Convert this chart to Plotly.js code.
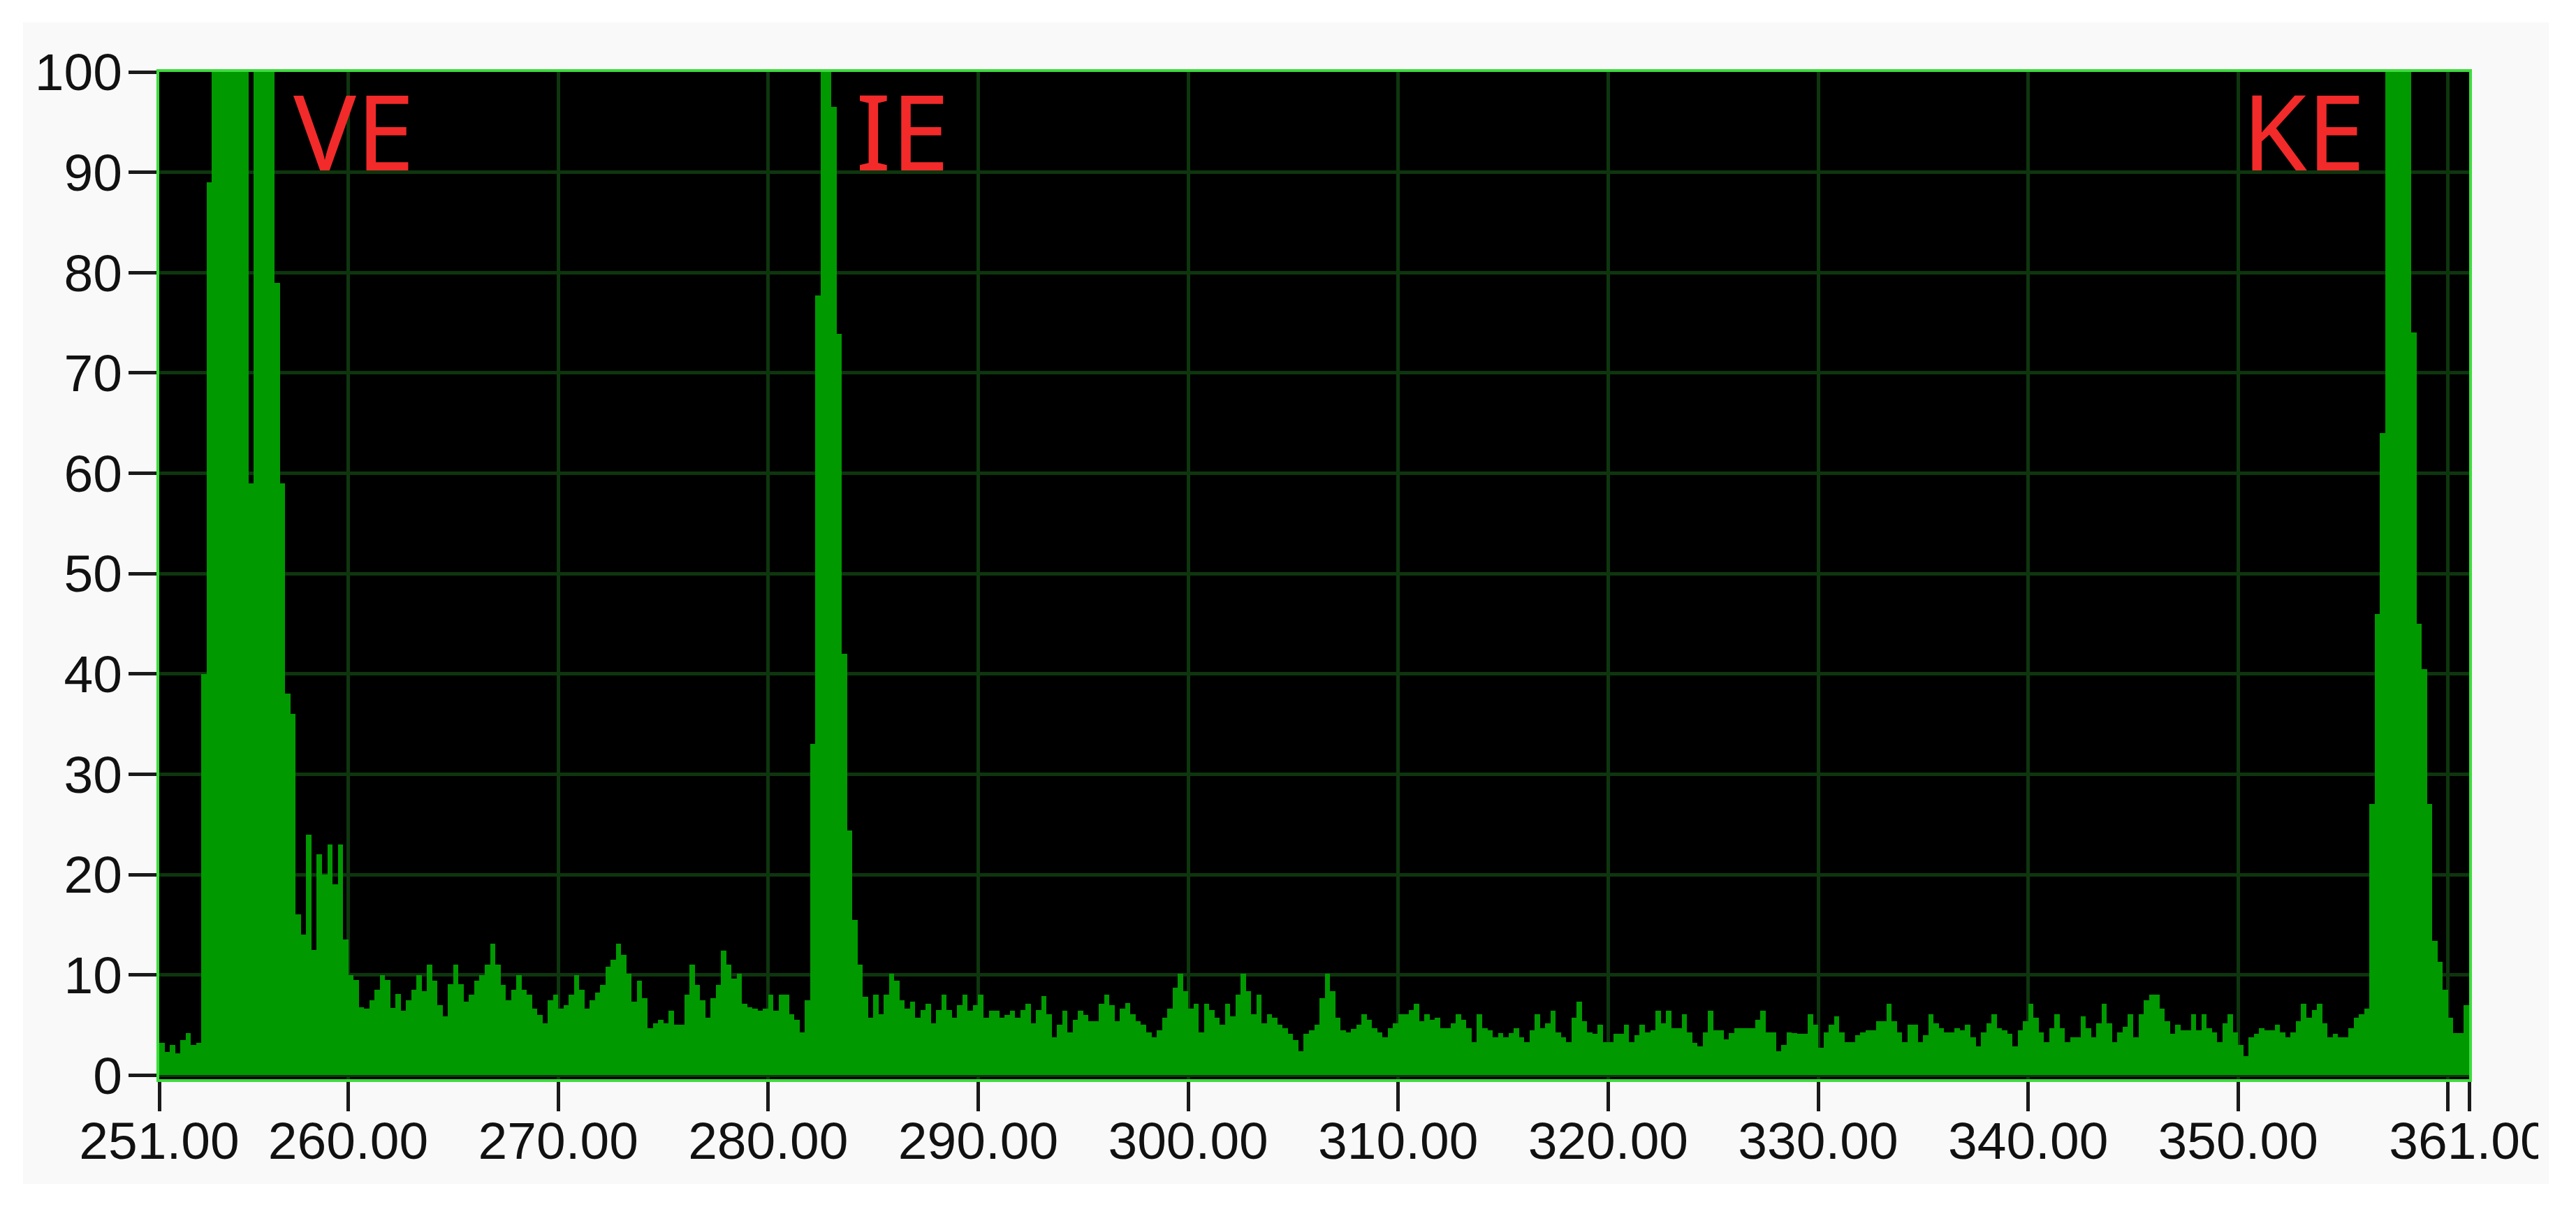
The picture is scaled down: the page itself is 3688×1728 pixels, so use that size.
<!DOCTYPE html>
<html>
<head>
<meta charset="utf-8">
<script src="https://cdn.plot.ly/plotly-3.0.1.min.js"></script>
<style>
  html, body { margin: 0; padding: 0; background: #ffffff; }
  #panel { position: absolute; left: 33px; top: 32px; width: 3616px; height: 1663px; background: #f9f9f9; }
  #spectrum { position: absolute; left: 33px; top: 32px; width: 3601px; height: 1663px; }
</style>
</head>
<body>
<div id="panel"></div>
<div id="spectrum"></div>
<script>
// ── histogram bins: 0.25 wide, starting at 251.00 ──
const binStart = 251;
const binWidth = 0.25;

// counts, 40 bins per stretch (251-261, 261-271, ...)
const bins251 = [3.2, 2.3, 3.0, 2.2, 3.5, 4.2, 3.0, 3.2, 40, 89,
                 100, 100, 100, 100, 100, 100, 100, 59, 100, 100,
                 100, 100, 79, 59, 38, 36, 16, 14, 24, 12.5,
                 22, 20, 23, 19, 23, 13.5, 10, 9.5, 6.8, 6.6];
const bins261 = [7.5, 8.5, 10, 9.5, 6.7, 8.1, 6.4, 7.5, 8.5, 10,
                 8.4, 11, 9.4, 7, 5.9, 9.1, 11, 9.1, 7.3, 8,
                 9.4, 10, 11, 13.1, 11, 9, 7.5, 8.5, 10, 8.5,
                 8, 6.6, 6, 5.2, 7.5, 8, 6.6, 7, 8, 10];
const bins271 = [8.5, 6.6, 7.5, 8.2, 9, 10.8, 11.5, 13.1, 12, 10.1,
                 7.3, 9.4, 7.7, 4.7, 5.2, 5.5, 5.2, 6.4, 5.0, 5.0,
                 8, 11, 9, 7.5, 5.7, 7.7, 9, 12.4, 11, 9.6,
                 10.1, 7.1, 6.8, 6.6, 6.4, 6.6, 8, 6.4, 8, 8];
const bins281 = [6.1, 5.5, 4.3, 7.5, 33, 77.7, 100, 100, 96.5, 73.9,
                 42, 24.4, 15.5, 11, 7.8, 5.7, 8, 6.1, 8, 10.1,
                 9.4, 7.5, 6.6, 7.3, 5.7, 6.5, 7.1, 5.2, 6.5, 8,
                 6.5, 5.7, 7, 8, 6.4, 7, 8, 5.7, 6.4, 6.4];
const bins291 = [5.7, 6, 6.4, 5.7, 6.5, 7.1, 5.2, 6.5, 7.9, 6.1,
                 3.8, 5, 6.4, 4.3, 5.5, 6.4, 6.0, 5.4, 5.4, 7.1,
                 8, 7, 5.4, 6.6, 7.2, 6.1, 5.4, 5, 4.3, 3.8,
                 4.5, 5.7, 6.6, 8.7, 10.1, 8.4, 6.6, 7.1, 4.3, 7.1];
const bins301 = [6.5, 5.7, 5, 7.1, 5.9, 8, 10.1, 8.4, 6.1, 8,
                 5.2, 6.1, 5.7, 5, 4.7, 4.1, 3.5, 2.4, 4.1, 4.5,
                 5, 7.7, 10.1, 8.4, 5.7, 4.5, 4.3, 4.6, 5, 6.1,
                 5.5, 4.7, 4.3, 3.8, 4.7, 5.2, 6.1, 6.1, 6.5, 7.1];
const bins311 = [5.4, 6.1, 5.5, 5.7, 4.7, 4.7, 5.2, 6.1, 5.5, 4.7,
                 3.3, 6.1, 4.7, 4.5, 3.8, 4.2, 3.8, 4.2, 4.7, 3.8,
                 3.3, 4.5, 6.1, 4.7, 5.2, 6.4, 4.3, 3.8, 3.3, 5.7,
                 7.3, 5.4, 4.3, 4.1, 5, 3.3, 3.3, 4.1, 4.1, 5];
const bins321 = [3.3, 4, 5, 4.3, 4.5, 6.4, 5.2, 6.4, 4.7, 4.7,
                 6.1, 4.3, 3.2, 2.9, 4.3, 6.4, 4.5, 4.5, 3.6, 4.2,
                 4.7, 4.7, 4.7, 4.7, 5.5, 6.4, 4.3, 4.3, 2.4, 3,
                 4.3, 4.2, 4.1, 4.1, 6.1, 5, 2.7, 4.3, 5, 5.9];
const bins331 = [4.3, 3.3, 3.3, 4, 4.3, 4.5, 4.5, 5.4, 5.4, 7.1,
                 5.4, 4.3, 3.3, 5, 5, 3.3, 4, 6.1, 5.2, 4.7,
                 4.3, 4.3, 4.7, 4.5, 5, 3.8, 2.9, 4.3, 5.2, 6.1,
                 4.7, 4.5, 4.1, 2.9, 4.5, 5.4, 7.1, 5.7, 4.3, 3.3];
const bins341 = [4.7, 6.1, 4.7, 3.3, 3.8, 3.8, 5.9, 4.7, 3.8, 5.2,
                 7.1, 5.2, 3.3, 4.3, 4.8, 6.1, 3.8, 6.1, 7.5, 8,
                 8, 6.6, 5.4, 4.1, 5, 4.5, 4.5, 6.1, 4.5, 6.1,
                 4.7, 4.3, 3.3, 5.2, 6.1, 4.3, 3, 1.9, 3.8, 4.1];
const bins351 = [4.7, 4.5, 4.5, 5, 4.3, 3.8, 4.3, 5.4, 7.1, 5.7,
                 6.5, 7.1, 5.2, 3.8, 4.1, 3.8, 3.8, 4.7, 5.7, 6.1,
                 6.6, 27, 46, 64, 100, 100, 100, 100, 100, 74,
                 45, 40.5, 27, 13.4, 11.3, 8.5, 5.7, 4.2, 4.2, 7];

const counts = [].concat(bins251, bins261, bins271, bins281, bins291, bins301,
                         bins311, bins321, bins331, bins341, bins351);

// axis ticks
const xTickVals = [251, 260, 270, 280, 290, 300, 310, 320, 330, 340, 350, 360, 361];
const xTickText = ['251.00', '260.00', '270.00', '280.00', '290.00', '300.00', '310.00',
                   '320.00', '330.00', '340.00', '350.00', '', '361.00'];
const yTickVals = [0, 10, 20, 30, 40, 50, 60, 70, 80, 90, 100];

// peak labels
const peakNames = ['VE', 'IE', 'KE'];
const peakNameX = [260.25, 286.4, 353.1];
const peakNameY = [94.2, 94.2, 94.2];

const tickFont = { family: '"Liberation Sans", Arial, sans-serif', size: 75, color: '#111111' };

const data = [{
    type: 'bar',
    x0: binStart + binWidth / 2,
    dx: binWidth,
    y: counts,
    width: binWidth,
    marker: { color: '#009900', line: { width: 0 } },
    hoverinfo: 'skip'
}];

const layout = {
    paper_bgcolor: '#f9f9f9',
    plot_bgcolor: '#000000',
    showlegend: false,
    bargap: 0,
    margin: { l: 195, r: 99, t: 71, b: 150 },
    xaxis: {
        range: [251, 361],
        tickmode: 'array',
        tickvals: xTickVals,
        ticktext: xTickText,
        ticks: 'outside',
        ticklen: 42,
        tickwidth: 5,
        tickcolor: '#1a1a1a',
        tickfont: tickFont,
        ticklabelstandoff: -22,
        ticklabeloverflow: 'allow',
        showgrid: true,
        gridcolor: '#0e360e',
        gridwidth: 5,
        zeroline: false,
        showline: true,
        mirror: true,
        linecolor: '#3ddc3d',
        linewidth: 4
    },
    yaxis: {
        range: [-0.4, 100],
        tickmode: 'array',
        tickvals: yTickVals,
        ticks: 'outside',
        ticklen: 40,
        tickwidth: 5,
        tickcolor: '#1a1a1a',
        tickfont: tickFont,
        ticklabelstandoff: -6,
        showgrid: true,
        gridcolor: '#0e360e',
        gridwidth: 5,
        zeroline: false,
        showline: true,
        mirror: true,
        linecolor: '#3ddc3d',
        linewidth: 4
    },
    annotations: peakNames.map((name, i) => ({
        x: peakNameX[i],
        y: peakNameY[i],
        xref: 'x',
        yref: 'y',
        text: name,
        showarrow: false,
        xanchor: 'center',
        yanchor: 'middle',
        font: { family: '"Noto Sans", sans-serif', size: 150, color: '#f22a2a' }
    }))
};

Plotly.newPlot('spectrum', data, layout, { displayModeBar: false, staticPlot: true });
</script>
</body>
</html>
